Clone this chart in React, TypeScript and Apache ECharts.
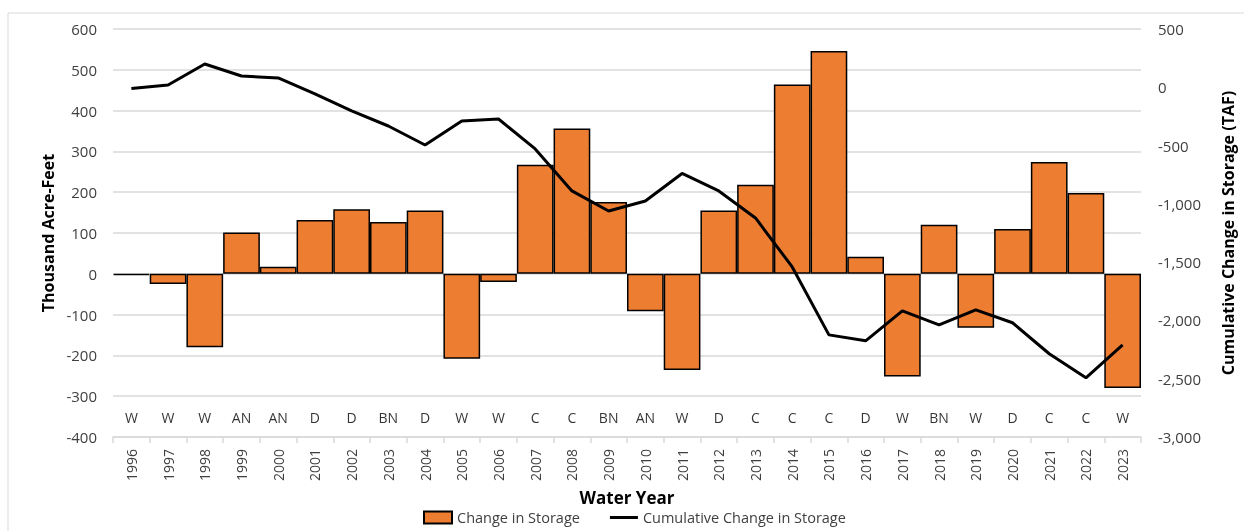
import React, { useEffect, useRef } from "react";
import * as echarts from "echarts";

const years = ["1996","1997","1998","1999","2000","2001","2002","2003","2004","2005","2006","2007","2008","2009","2010","2011","2012","2013","2014","2015","2016","2017","2018","2019","2020","2021","2022","2023"];
const yearTypes = ["W","W","W","AN","AN","D","D","BN","D","W","W","C","C","BN","AN","W","D","C","C","C","D","W","BN","W","D","C","C","W"];
const changeInStorage = [-3,-25,-180,101,17,132,158,127,155,-208,-20,267,356,176,-92,-236,155,218,464,546,42,-252,120,-132,110,274,198,-280];
const cumulativeChange = [-10,20,200,97,80,-57,-203,-332,-495,-289,-272,-529,-889,-1061,-975,-739,-889,-1121,-1541,-2124,-2175,-1918,-2038,-1909,-2020,-2286,-2492,-2209];
const typeLabelLevel = -353;

const FONT = "'Open Sans', sans-serif";
const TXT = "#404040";
const GRID = "#d9d9d9";

export default function App() {
  const ref = useRef<HTMLDivElement>(null);
  useEffect(() => {
    if (!ref.current) return;
    const chart = echarts.init(ref.current, null, { renderer: "svg" });
    const fmt = (v: number) => {
      const s = Math.abs(v).toString().replace(/\B(?=(\d{3})+(?!\d))/g, ",");
      return (v < 0 ? "-" : "") + s;
    };
    chart.setOption({
      animation: false,
      textStyle: { fontFamily: FONT },
      graphic: [
        {
          type: "rect",
          shape: { x: 8, y: 13, width: 1240, height: 530 },
          style: { fill: "none", stroke: GRID, lineWidth: 1 },
          silent: true,
        },
      ],
      grid: { left: 113, right: 96, top: 29, bottom: 94, containLabel: false },
      legend: {
        top: 505,
        left: 418,
        data: [
          { name: "Change in Storage", icon: "rect" },
          { name: "Cumulative Change in Storage", icon: "path://M0,0h28v3h-28z" },
        ],
        itemWidth: 28,
        itemHeight: 12,
        itemGap: 30,
        textStyle: { fontFamily: FONT, fontSize: 14.5, color: TXT },
      },
      xAxis: {
        type: "category",
        data: years,
        name: "Water Year",
        nameLocation: "middle",
        nameGap: 50,
        nameTextStyle: { fontFamily: FONT, fontSize: 17, fontWeight: "bold", color: "#000" },
        axisLine: { show: true, onZero: false, lineStyle: { color: GRID, width: 1.5 } },
        axisTick: { show: true, length: 6, lineStyle: { color: GRID, width: 1.5 } },
        axisLabel: { rotate: 90, margin: 12, fontSize: 14, color: TXT, fontFamily: FONT },
        splitLine: { show: false },
      },
      yAxis: [
        {
          type: "value",
          min: -400,
          max: 600,
          interval: 100,
          name: "Thousand Acre-Feet",
          nameLocation: "middle",
          nameGap: 49,
          nameTextStyle: { fontFamily: FONT, fontSize: 16, fontWeight: "bold", color: "#000" },
          axisLine: { show: false },
          axisTick: { show: false },
          axisLabel: { fontSize: 15, color: TXT, margin: 16, fontFamily: FONT },
          splitLine: { show: true, lineStyle: { color: GRID, width: 1.5 } },
        },
        {
          type: "value",
          min: -3000,
          max: 500,
          interval: 500,
          position: "right",
          name: "Cumulative Change in Storage (TAF)",
          nameLocation: "middle",
          nameGap: 79,
          nameRotate: 90,
          nameTextStyle: { fontFamily: FONT, fontSize: 16, fontWeight: "bold", color: "#000" },
          axisLine: { show: false },
          axisTick: { show: false },
          axisLabel: { fontSize: 15, color: TXT, margin: 17, fontFamily: FONT, formatter: fmt },
          splitLine: { show: false },
        },
      ],
      series: [
        {
          name: "Change in Storage",
          type: "bar",
          data: changeInStorage,
          yAxisIndex: 0,
          barGap: "0%",
          barCategoryGap: "0%",
          itemStyle: { color: "#ED7D31", borderColor: "#000", borderWidth: 1.5 },
          z: 2,
        },
        {
          name: "Cumulative Change in Storage",
          type: "line",
          data: cumulativeChange,
          yAxisIndex: 1,
          symbol: "none",
          lineStyle: { color: "#000", width: 3 },
          itemStyle: { color: "#000" },
          z: 3,
        },
        {
          name: "Water Year Type",
          type: "scatter",
          yAxisIndex: 0,
          data: yearTypes.map((t, i) => [i, typeLabelLevel]),
          symbolSize: 0,
          silent: true,
          label: {
            show: true,
            position: "inside",
            formatter: (p: any) => yearTypes[p.dataIndex],
            fontSize: 14,
            color: "#000",
            fontFamily: FONT,
          },
          z: 4,
        },
      ],
    });
    return () => chart.dispose();
  }, []);
  return (
    <div
      ref={ref}
      style={{ position: "fixed", left: 0, top: 0, width: 1244, height: 531 }}
    />
  );
}
